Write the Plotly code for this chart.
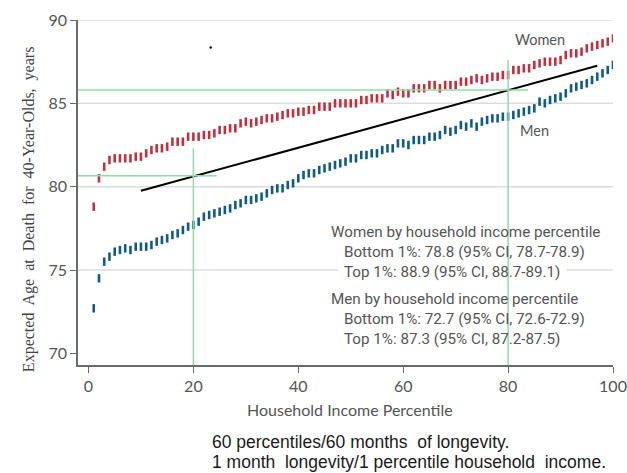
import plotly.graph_objects as go

# Household income percentile 1..100
percentile = list(range(1, 101))

women = [
    78.8, 80.5, 81.2, 81.6, 81.7, 81.7, 81.7, 81.7, 81.8, 81.8,
    82.0, 82.2, 82.3, 82.3, 82.4, 82.7, 82.7, 82.7, 83.0, 83.0,
    83.0, 83.1, 83.1, 83.2, 83.4, 83.4, 83.5, 83.5, 83.8, 83.9,
    83.8, 83.9, 84.0, 84.1, 84.1, 84.2, 84.3, 84.4, 84.4, 84.5,
    84.5, 84.6, 84.6, 84.8, 84.8, 84.8, 85.0, 85.0, 85.0, 85.0,
    85.0, 85.2, 85.2, 85.3, 85.3, 85.3, 85.6, 85.5, 85.7, 85.6,
    85.6, 85.9, 85.9, 85.9, 86.1, 86.1, 85.9, 86.1, 86.1, 86.1,
    86.3, 86.3, 86.4, 86.5, 86.4, 86.5, 86.6, 86.6, 86.7, 86.7,
    87.0, 87.0, 87.1, 87.1, 87.3, 87.4, 87.5, 87.5, 87.5, 87.6,
    87.9, 88.0, 88.0, 88.1, 88.3, 88.4, 88.5, 88.6, 88.7, 88.9,
]

men = [
    72.7, 74.5, 75.5, 75.8, 76.1, 76.2, 76.3, 76.2, 76.4, 76.4,
    76.4, 76.5, 76.7, 76.8, 76.9, 77.1, 77.2, 77.4, 77.6, 77.7,
    77.9, 78.2, 78.3, 78.4, 78.5, 78.6, 78.7, 78.9, 79.0, 79.2,
    79.2, 79.3, 79.4, 79.6, 79.8, 79.9, 79.9, 80.1, 80.2, 80.5,
    80.7, 80.8, 80.8, 81.0, 81.1, 81.2, 81.3, 81.4, 81.5, 81.7,
    81.7, 81.9, 81.9, 82.0, 82.0, 82.2, 82.3, 82.3, 82.6, 82.6,
    82.5, 82.8, 82.8, 82.8, 83.0, 83.0, 83.1, 83.4, 83.3, 83.4,
    83.7, 83.6, 83.8, 83.6, 83.9, 84.0, 84.1, 84.1, 84.2, 84.2,
    84.3, 84.4, 84.5, 84.6, 84.7, 85.1, 85.0, 85.2, 85.3, 85.4,
    85.6, 85.9, 86.0, 86.1, 86.2, 86.4, 86.6, 86.8, 87.0, 87.3,
]

# Overall trend line between the two series
trend_x = [10, 97]
trend_y = [79.75, 87.25]

# Reference crosshairs: (percentile, age)
guide_x = [20, 80]
guide_y = [80.65, 85.8]

grid_values = [75, 80, 85, 90]
x_ticks = [0, 20, 40, 60, 80, 100]
y_ticks = [70, 75, 80, 85, 90]

women_stats = [
    "Women by household income percentile",
    "Bottom 1%: 78.8 (95% CI, 78.7-78.9)",
    "Top 1%: 88.9 (95% CI, 88.7-89.1)",
]
men_stats = [
    "Men by household income percentile",
    "Bottom 1%: 72.7 (95% CI, 72.6-72.9)",
    "Top 1%: 87.3 (95% CI, 87.2-87.5)",
]
footnote = [
    "60 percentiles/60 months\u00a0 of longevity.",
    "1 month\u00a0 longevity/1 percentile household\u00a0 income.",
]

RED = "#c0303e"
BLUE = "#0f5a86"
GREEN = "#8ddcaa"
TEXT = "#555555"
SANS = "Lato, 'Open Sans', sans-serif"
STATS_FONT = "Roboto, Lato, sans-serif"

fig = go.Figure()

fig.add_trace(go.Scatter(
    x=trend_x, y=trend_y, mode="lines",
    line=dict(color="black", width=2), hoverinfo="skip", showlegend=False,
))

fig.add_trace(go.Scatter(
    x=percentile, y=women, mode="markers", name="Women",
    marker=dict(symbol="line-ns", size=6, line=dict(color=RED, width=2.6)),
    showlegend=False,
))
fig.add_trace(go.Scatter(
    x=percentile, y=men, mode="markers", name="Men",
    marker=dict(symbol="line-ns", size=6, line=dict(color=BLUE, width=2.6)),
    showlegend=False,
))

# stray speck
fig.add_trace(go.Scatter(
    x=[23.3], y=[88.35], mode="markers",
    marker=dict(color="black", size=2.5), hoverinfo="skip", showlegend=False,
))

shapes = []
for g in grid_values:
    shapes.append(dict(type="line", xref="x", yref="y", x0=-2, x1=100, y0=g, y1=g,
                       line=dict(color="#dcdcdc", width=1.5), layer="below"))

# white backing behind the stats text so the gridline is interrupted
shapes.append(dict(type="rect", xref="x", yref="y", x0=47.6, x1=91.2, y0=74.7, y1=75.3,
                   fillcolor="white", line=dict(width=0), layer="between"))

# guide crosshairs
shapes += [
    dict(type="line", xref="x", yref="y", x0=guide_x[0], x1=guide_x[0], y0=69.3, y1=82.3,
         line=dict(color=GREEN, width=1.5), layer="above"),
    dict(type="line", xref="x", yref="y", x0=-2, x1=24.4, y0=guide_y[0], y1=guide_y[0],
         line=dict(color=GREEN, width=1.5), layer="above"),
    dict(type="line", xref="x", yref="y", x0=guide_x[1], x1=guide_x[1], y0=69.3, y1=87.6,
         line=dict(color=GREEN, width=1.5), layer="above"),
    dict(type="line", xref="x", yref="y", x0=-2, x1=83.8, y0=guide_y[1], y1=guide_y[1],
         line=dict(color=GREEN, width=1.5), layer="above"),
]

annotations = [
    dict(text="Women", x=86, y=88.85, xref="x", yref="y", showarrow=False,
         font=dict(family=SANS, size=14.5, color=TEXT)),
    dict(text="Men", x=85.1, y=83.4, xref="x", yref="y", showarrow=False,
         font=dict(family=SANS, size=14.5, color=TEXT)),
    dict(text="Expected\u00a0 Age\u00a0 at\u00a0 Death\u00a0 for\u00a0 40-Year-Olds,\u00a0 years",
         x=-0.112, y=0.452, xref="paper", yref="paper", textangle=-90, showarrow=False,
         font=dict(family="'Liberation Serif', 'Times New Roman', serif", size=16, color="#444444")),
    dict(text="Household Income Percentile", x=0.509, y=-0.128, xref="paper", yref="paper",
         showarrow=False, yanchor="middle",
         font=dict(family=SANS, size=16, color=TEXT)),
]

stat_rows_y = [231.7, 251.7, 271.7]
for block, offset in ((women_stats, 0.0), (men_stats, 67.3)):
    for i, line in enumerate(block):
        py = stat_rows_y[i] + offset
        px = 329 if i == 0 else 342
        annotations.append(dict(
            text=line, x=(px - 78) / 535, y=(365 - py) / 345, xref="paper", yref="paper",
            xanchor="left", yanchor="middle", showarrow=False,
            font=dict(family=STATS_FONT, size=15.2, color=TEXT)))

for i, line in enumerate(footnote):
    py = [442, 461.5][i]
    annotations.append(dict(
        text=line, x=(210 - 78) / 535, y=(365 - py) / 345, xref="paper", yref="paper",
        xanchor="left", yanchor="middle", showarrow=False,
        font=dict(family="'Liberation Sans', Arial, sans-serif", size=17.5, color="#1a1a1a")))

fig.update_layout(
    width=627, height=473,
    margin=dict(l=78, r=14, t=20, b=108, autoexpand=False),
    paper_bgcolor="white", plot_bgcolor="white",
    shapes=shapes, annotations=annotations,
    xaxis=dict(range=[-2, 100], tickvals=x_ticks, showgrid=False, zeroline=False,
               showline=True, linecolor="#6a6a6a", linewidth=1.5,
               ticks="outside", ticklen=6, tickcolor="#6a6a6a", automargin=False,
               tickfont=dict(family=SANS, size=16, color=TEXT)),
    yaxis=dict(range=[69.3, 90], tickvals=y_ticks, showgrid=False, zeroline=False,
               showline=True, linecolor="#6a6a6a", linewidth=1.5,
               ticks="outside", ticklen=6, tickcolor="#6a6a6a", automargin=False,
               tickfont=dict(family=SANS, size=16, color=TEXT)),
)

fig.write_html("out.html")
